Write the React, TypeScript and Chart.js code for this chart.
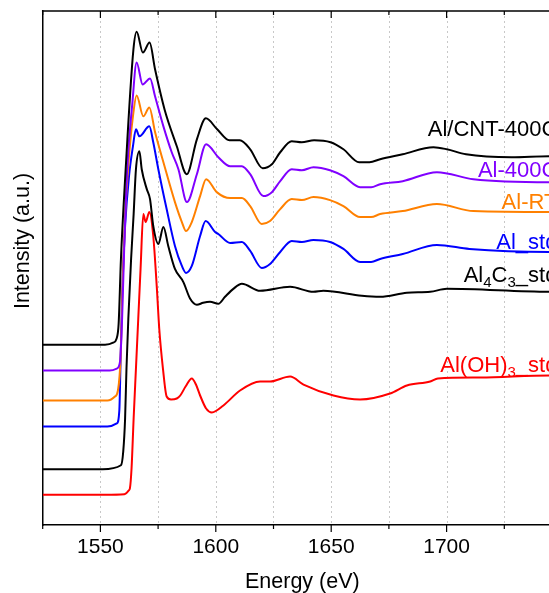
import React, { useEffect, useRef } from "react";
import { Chart, registerables } from "chart.js";

Chart.register(...registerables);

const FONT = "'Liberation Sans', Arial, Helvetica, sans-serif";

// ---------- Data (energy in eV, intensity in arbitrary units, curves offset for display) ----------
const cntE = [1525, 1552, 1555.5, 1557, 1557.9, 1558.9, 1560.7, 1564.3, 1565.7, 1568.4, 1571.3, 1573.7, 1577.8, 1583.1, 1587.4, 1591.8, 1595.7, 1600.6, 1605.9, 1610.4, 1614.9, 1620.3, 1624.3, 1627.9, 1632.9, 1637.2, 1642.6, 1649.7, 1655.3, 1662.1, 1666.6, 1671.2, 1681, 1694.3, 1700.1, 1708.4, 1728.1, 1744.5, 1750];
const cntI = [181, 181, 183, 187, 202, 267, 347, 477, 495, 474, 484, 457, 417, 380, 352, 387, 408, 397, 386, 386, 377, 358, 362, 374, 385, 384, 386, 384, 377, 364, 364, 367, 372, 379, 377, 372, 369, 370, 370];

const al400E = [1525, 1554, 1557.1, 1558.5, 1559.4, 1560.3, 1561.6, 1563.8, 1565.7, 1568.3, 1571.5, 1573.7, 1577.3, 1580.9, 1583.8, 1587.5, 1591.8, 1595.8, 1601.1, 1606.2, 1611.3, 1614.9, 1620.6, 1624.3, 1627.9, 1632.9, 1637.3, 1642.3, 1649.5, 1655.3, 1662.5, 1667.3, 1671.2, 1681, 1695.8, 1711.6, 1744.5, 1750];
const al400I = [155, 155, 157, 164, 207, 277, 357, 422, 464, 442, 448, 430, 400, 374, 357, 324, 352, 382, 369, 360, 360, 352, 330, 334, 345, 357, 356, 359, 356, 350, 339, 339, 342, 345, 354, 347, 344, 344];

const rtE = [1525, 1553, 1556.3, 1557.6, 1558.8, 1559.6, 1560.7, 1562.4, 1564.1, 1565.7, 1568.6, 1571.2, 1573.7, 1577.3, 1582.3, 1585.3, 1587.1, 1589.6, 1593.2, 1595.8, 1600.4, 1606.2, 1611.3, 1614.9, 1619.9, 1623.5, 1627.9, 1632.9, 1637.3, 1642.3, 1649.5, 1655.3, 1662.5, 1667.3, 1671.2, 1681, 1695.8, 1711.6, 1744.5, 1750];
const rtI = [125, 125, 129, 135, 170, 240, 310, 370, 410, 431, 410, 419, 394, 364, 324, 304, 295, 304, 330, 347, 334, 328, 328, 320, 302, 305, 317, 327, 326, 329, 326, 320, 309, 309, 312, 315, 322, 315, 314, 314];

const stdE = [1525, 1553, 1557.1, 1558.2, 1558.7, 1559.4, 1560.7, 1562.4, 1564.1, 1565.4, 1566.9, 1571.2, 1572.9, 1575.1, 1578.7, 1582.3, 1585.3, 1587.1, 1589.6, 1593.2, 1595.6, 1599.7, 1601.1, 1606.2, 1611.3, 1614.9, 1619.9, 1623.5, 1627.9, 1632.9, 1637.3, 1642.3, 1649.5, 1655.3, 1662.5, 1667.3, 1671.2, 1681, 1695.8, 1709.9, 1744.5, 1750];
const stdI = [99, 99, 102, 115, 160, 230, 300, 350, 380, 397, 390, 400, 384, 357, 317, 280, 260, 253, 260, 290, 305, 294, 292, 283, 284, 275, 258, 262, 274, 285, 284, 286, 284, 277, 264, 264, 267, 272, 281, 277, 274, 274];

const al4c3E = [1525, 1551, 1558.9, 1559.9, 1560.7, 1561.3, 1562.1, 1563.3, 1564.4, 1565.4, 1566.9, 1567.9, 1570.1, 1571.5, 1572.9, 1575.1, 1577.3, 1579.4, 1582.3, 1585.9, 1588.9, 1591.8, 1594.5, 1597.5, 1601.1, 1604, 1607.6, 1611.3, 1619.2, 1632.2, 1642.3, 1646.6, 1663.3, 1671.2, 1682.8, 1692.9, 1700.1, 1744.5, 1750];
const al4c3I = [56, 56, 60, 74, 107, 157, 207, 267, 312, 357, 375, 357, 337, 327, 300, 282, 299, 280, 257, 244, 227, 221, 223, 224, 222, 229, 237, 242, 235, 239, 234, 235, 230, 229, 233, 234, 237, 234, 234];

const ohE = [1525, 1552, 1560.4, 1562.4, 1562.8, 1563.5, 1564.4, 1565.4, 1566.4, 1567.4, 1568.6, 1569.6, 1571.2, 1572.9, 1574.4, 1575.5, 1577.1, 1578.7, 1580.6, 1583.1, 1584.6, 1586.9, 1589.6, 1591.4, 1593.2, 1595.8, 1598.3, 1603.3, 1610.5, 1619.2, 1623.5, 1632.2, 1638, 1651, 1662.5, 1675.5, 1682.8, 1692.9, 1696.2, 1714.6, 1744.5, 1750];
const ohI = [30.5, 30.5, 31, 35, 37, 57, 107, 157, 207, 257, 312, 304, 314, 290, 240, 197, 157, 129, 126, 127, 130, 139, 147, 141, 130, 117, 113, 120, 135, 144, 144, 149, 141, 130, 126, 132, 140, 144, 147, 148, 150, 150];

// series names ({n} = subscript)
const seriesNames = ["Al/CNT-400C", "Al-400C", "Al-RT", "Al_std", "Al{4}C{3}_std", "Al(OH){3}_std"];
const seriesColors = ["#000000", "#8000FF", "#FF8000", "#0000FF", "#000000", "#FF0000"];
const seriesE = [cntE, al400E, rtE, stdE, al4c3E, ohE];
const seriesI = [cntI, al400I, rtI, stdI, al4c3I, ohI];

// axis settings
const xMin = 1525;
const xMax = 1750;
const xStep = 25;
const xLabelTicks = [1550, 1600, 1650, 1700];
const yMin = 0;
const yMax = 515.7;

function parseSegments(label: string) {
  const segs: { t: string; sub: boolean }[] = [];
  const re = /\{([^}]*)\}|([^{]+)/g;
  let m: RegExpExecArray | null;
  while ((m = re.exec(label))) {
    if (m[1] !== undefined) segs.push({ t: m[1], sub: true });
    else segs.push({ t: m[2], sub: false });
  }
  return segs;
}

const decorPlugin = {
  id: "decor",
  beforeDatasetsDraw(chart: any) {
    const { ctx, chartArea: ca, scales } = chart;
    const x = scales.x;
    ctx.save();
    ctx.strokeStyle = "#c8c8c8";
    ctx.lineWidth = 1;
    ctx.setLineDash([2, 3]);
    for (let v = xMin + xStep; v < xMax; v += xStep) {
      const px = Math.round(x.getPixelForValue(v)) + 0.5;
      ctx.beginPath();
      ctx.moveTo(px, ca.top);
      ctx.lineTo(px, ca.bottom);
      ctx.stroke();
    }
    ctx.restore();
  },
  afterDraw(chart: any) {
    const { ctx, chartArea: ca, scales } = chart;
    const x = scales.x;
    const y = scales.y;
    ctx.save();
    ctx.strokeStyle = "#000";
    ctx.lineWidth = 1.5;
    ctx.setLineDash([]);
    // top frame
    ctx.beginPath();
    ctx.moveTo(ca.left - 0.75, ca.top);
    ctx.lineTo(ca.right + 0.75, ca.top);
    ctx.stroke();
    // tick marks (bottom outward, top inward)
    ctx.lineWidth = 1.2;
    for (let v = xMin; v <= xMax; v += xStep) {
      const px = x.getPixelForValue(v);
      const len = v % 50 === 0 ? 7 : 4;
      ctx.beginPath();
      ctx.moveTo(px, ca.bottom);
      ctx.lineTo(px, ca.bottom + len);
      ctx.moveTo(px, ca.top);
      ctx.lineTo(px, ca.top + len);
      ctx.stroke();
    }
    // y title
    ctx.fillStyle = "#000";
    ctx.font = `21.5px ${FONT}`;
    ctx.textAlign = "center";
    ctx.textBaseline = "alphabetic";
    ctx.translate(28.5, y.getPixelForValue(285));
    ctx.rotate(-Math.PI / 2);
    ctx.fillText("Intensity (a.u.)", 0, 0);
    ctx.restore();

    // series labels, right aligned near right edge
    const labelBaselines = [390.5, 349, 317, 277, 244, 154];
    const rightPx = x.getPixelForValue(1748);
    ctx.save();
    ctx.textBaseline = "alphabetic";
    ctx.textAlign = "left";
    seriesNames.forEach((name, i) => {
      const segs = parseSegments(name);
      const widths = segs.map((s) => {
        ctx.font = `${s.sub ? 15 : 22}px ${FONT}`;
        return ctx.measureText(s.t).width;
      });
      const total = widths.reduce((a, b) => a + b, 0);
      let cx = rightPx - total;
      const by = y.getPixelForValue(labelBaselines[i]);
      ctx.fillStyle = seriesColors[i];
      segs.forEach((s, k) => {
        ctx.font = `${s.sub ? 15 : 22}px ${FONT}`;
        ctx.fillText(s.t, cx, s.sub ? by + 5 : by);
        cx += widths[k];
      });
    });
    ctx.restore();
  },
};

export default function App() {
  const canvasRef = useRef<HTMLCanvasElement | null>(null);

  useEffect(() => {
    const canvas = canvasRef.current;
    if (!canvas) return;
    const datasets = seriesNames.map((name, i) => ({
      label: name,
      data: seriesE[i].map((e, k) => ({ x: e, y: seriesI[i][k] })),
      borderColor: seriesColors[i],
      backgroundColor: seriesColors[i],
      borderWidth: 2,
      pointRadius: 0,
      fill: false,
      cubicInterpolationMode: "monotone" as const,
    }));
    const chart = new Chart(canvas, {
      type: "line",
      data: { datasets },
      options: {
        animation: false,
        responsive: false,
        devicePixelRatio: 1,
        layout: { padding: { left: 42.7, top: 11, right: 18, bottom: 4.9 } },
        plugins: { legend: { display: false }, tooltip: { enabled: false } },
        events: [],
        scales: {
          x: {
            type: "linear",
            min: xMin,
            max: xMax,
            ticks: {
              stepSize: xStep,
              autoSkip: false,
              maxRotation: 0,
              padding: 9.5,
              color: "#000",
              font: { family: FONT, size: 21 },
              callback: (v: any) => (xLabelTicks.includes(Number(v)) ? String(v) : ""),
            },
            grid: { display: false, drawTicks: false },
            border: { display: true, color: "#000", width: 1.5 },
            title: {
              display: true,
              text: "Energy (eV)",
              color: "#000",
              font: { family: FONT, size: 21.5 },
              padding: { top: 0, bottom: 0 },
            },
          },
          y: {
            type: "linear",
            min: yMin,
            max: yMax,
            ticks: { display: false },
            grid: { display: false, drawTicks: false },
            border: { display: true, color: "#000", width: 1.5 },
          },
        },
      },
      plugins: [decorPlugin],
    });
    return () => chart.destroy();
  }, []);

  return (
    <div style={{ position: "fixed", left: 0, top: 0, width: 549, height: 593, overflow: "hidden", background: "#fff" }}>
      <canvas ref={canvasRef} width={580} height={600} style={{ display: "block" }} />
    </div>
  );
}
